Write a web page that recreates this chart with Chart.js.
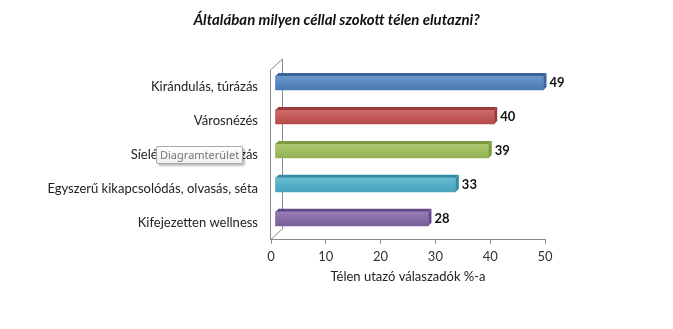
<!DOCTYPE html>
<html>
<head>
<meta charset="utf-8">
<script src="https://cdn.jsdelivr.net/npm/chart.js@4"></script>
<style>
  html, body { margin: 0; padding: 0; background: #fff; }
  #wrap { position: relative; width: 673px; height: 329px; }
  /* hover hint box sitting over the third category label */
  #hint {
    position: absolute; left: 156px; top: 146px;
    height: 16px; padding: 0 3px;
    font: 11px "Noto Sans", sans-serif; line-height: 16px; color: #777;
    background: linear-gradient(#ffffff, #eef0f4);
    border: 1px solid #a9a9a9; border-radius: 2px;
    box-shadow: 2px 2px 2px rgba(0,0,0,0.25);
  }
</style>
</head>
<body>
<div id="wrap">
  <canvas id="chart" width="673" height="329"></canvas>
  <div id="hint">Diagramterület</div>
</div>
<script>
// answers to the winter travel question, % of respondents
const categories = [
  'Kirándulás, túrázás',
  'Városnézés',
  'Síelés, snowboardozás',
  'Egyszerű kikapcsolódás, olvasás, séta',
  'Kifejezetten wellness'
];
const shares = [49, 40, 39, 33, 28];

// office style colours, one per bar
const barColors = ['#4f81bd', '#c0504d', '#9bbb59', '#4bacc6', '#8064a2'];
// darker shade for the top and side faces of the 3d bars
const faceColors = ['#3b659a', '#9b3b38', '#7a9a40', '#348da6', '#62498a'];

const xMin = 0, xMax = 50, xStep = 10;

const depth = 4;     // how far the bars sit back from the front plane
const bevel = 3;     // thickness of the top / side faces
const wall = { dx: 12, dy: -11 };

Chart.defaults.font.family = 'Lato, sans-serif';
Chart.defaults.color = '#222';

// draws the side wall of the 3d box, shifts the bars back and adds the faces + value labels
const bars3d = {
  id: 'bars3d',
  beforeDatasetsDraw(chart) {
    const { ctx, chartArea: a } = chart;
    const l = Math.round(a.left) - 0.5;
    ctx.save();
    ctx.strokeStyle = '#8a8a8a';
    ctx.lineWidth = 1;
    ctx.beginPath();
    ctx.moveTo(l, a.top);
    ctx.lineTo(l, a.bottom);
    ctx.moveTo(l, a.top);
    ctx.lineTo(l + wall.dx, a.top + wall.dy);
    ctx.lineTo(l + wall.dx, a.bottom + wall.dy);
    ctx.lineTo(l, a.bottom);
    ctx.stroke();
    ctx.restore();

    ctx.save();
    ctx.translate(depth, -depth);
  },
  afterDatasetsDraw(chart) {
    const { ctx } = chart;
    const meta = chart.getDatasetMeta(0);
    meta.data.forEach((bar, i) => {
      const { x, y, base, height } = bar.getProps(['x', 'y', 'base', 'height'], true);
      const top = y - height / 2, bottom = y + height / 2;

      // soft highlight on the front face
      const g = ctx.createLinearGradient(0, top, 0, bottom);
      g.addColorStop(0, 'rgba(255,255,255,0.18)');
      g.addColorStop(0.5, 'rgba(255,255,255,0.05)');
      g.addColorStop(1, 'rgba(0,0,0,0.06)');
      ctx.fillStyle = g;
      ctx.fillRect(base, top, x - base, height);

      ctx.fillStyle = faceColors[i];
      // top face
      ctx.beginPath();
      ctx.moveTo(base, top);
      ctx.lineTo(base + bevel, top - bevel);
      ctx.lineTo(x + bevel, top - bevel);
      ctx.lineTo(x, top);
      ctx.closePath();
      ctx.fill();
      // right face
      ctx.beginPath();
      ctx.moveTo(x, top);
      ctx.lineTo(x + bevel, top - bevel);
      ctx.lineTo(x + bevel, bottom - bevel);
      ctx.lineTo(x, bottom);
      ctx.closePath();
      ctx.fill();

      // value label
      ctx.fillStyle = '#111';
      ctx.font = 'bold 13px Lato, sans-serif';
      ctx.textAlign = 'left';
      ctx.textBaseline = 'middle';
      ctx.fillText(String(shares[i]), x + bevel + 3, y);
    });
    ctx.restore();
  }
};

new Chart(document.getElementById('chart'), {
  type: 'bar',
  data: {
    labels: categories,
    datasets: [{
      data: shares,
      backgroundColor: barColors,
      borderWidth: 0,
      barThickness: 14
    }]
  },
  options: {
    indexAxis: 'y',
    responsive: false,
    animation: false,
    layout: { padding: { left: 0, right: 0, top: 0, bottom: 44 } },
    plugins: {
      legend: { display: false },
      tooltip: { enabled: false },
      title: {
        display: true,
        text: 'Általában milyen céllal szokott télen elutazni?',
        font: { size: 15, weight: 'bold', style: 'italic' },
        color: '#111',
        padding: { top: 11, bottom: 41 }
      }
    },
    scales: {
      x: {
        min: xMin,
        max: xMax,
        ticks: { stepSize: xStep, padding: 5, font: { size: 13 }, color: '#333' },
        grid: { drawOnChartArea: false, drawTicks: true, tickLength: 4, color: '#8a8a8a' },
        border: { color: '#8a8a8a' },
        title: {
          display: true,
          text: 'Télen utazó válaszadók %-a',
          font: { size: 13 },
          color: '#222',
          padding: { top: 0, bottom: 0 }
        }
      },
      y: {
        ticks: { padding: 13, font: { size: 13 }, color: '#222' },
        grid: { display: false, drawTicks: false },
        border: { display: false },
        afterFit(scale) { scale.width = 271; }
      },
      // empty right-hand margin so the plot ends at 50 while the title stays centred on the page
      yPad: {
        type: 'category',
        position: 'right',
        ticks: { display: false },
        grid: { display: false, drawTicks: false },
        border: { display: false },
        afterFit(scale) { scale.width = 128; }
      }
    }
  },
  plugins: [bars3d]
});
</script>
</body>
</html>
